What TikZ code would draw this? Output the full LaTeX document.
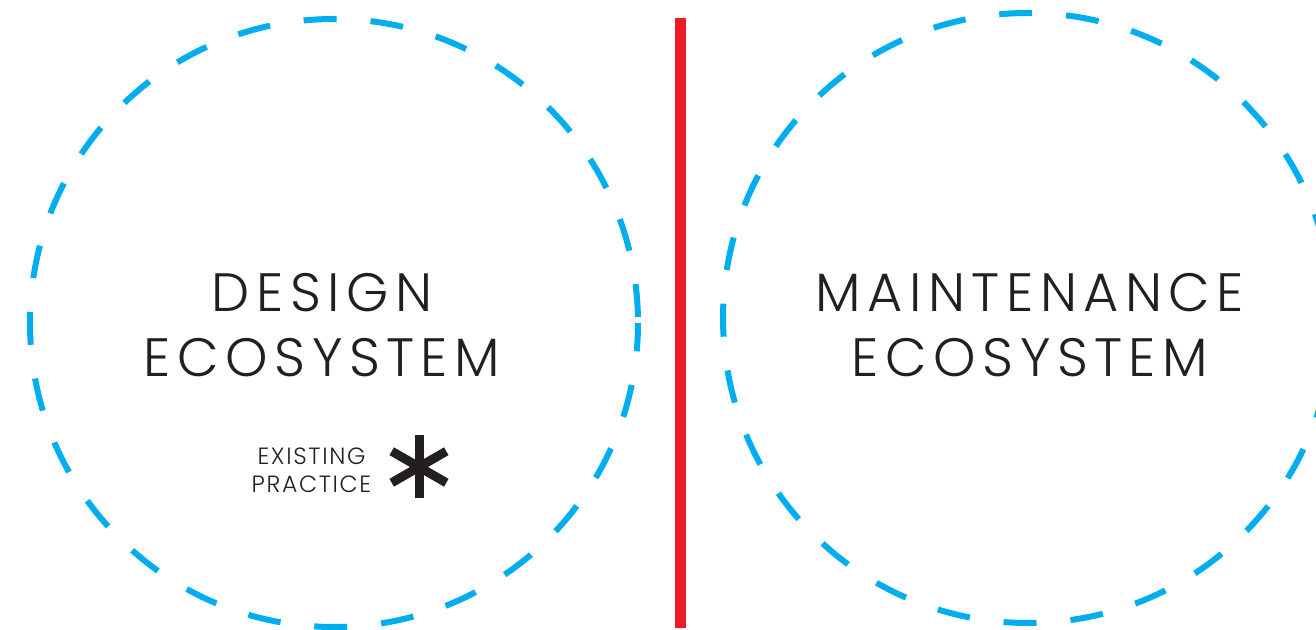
\documentclass[tikz,border=0pt]{standalone}
\usepackage{fontspec}
\setmainfont{Poppins Light}
\newfontfamily\ecofont{Poppins Light}[LetterSpace=12]
\newfontfamily\notefont{Poppins Light}[LetterSpace=7]
\usepackage{xcolor}
\usepackage{tikz}
\usetikzlibrary{positioning, calc}
\definecolor{ecoblue}{HTML}{00AEEF}
\definecolor{cutred}{HTML}{ED1C24}
\definecolor{inkgrey}{HTML}{231F20}

\begin{document}
\begin{tikzpicture}[
    x=1pt, y=1pt,
    eco/.style={draw=ecoblue, circle, line width=6pt, dash pattern=on 33pt off 34pt, dash phase=61pt, minimum size=#1, inner sep=0pt},
    title/.style={align=center, text=inkgrey, inner sep=0pt, font=\ecofont\fontsize{54}{65}\selectfont},
    note/.style={align=center, text=inkgrey, inner sep=0pt, font=\notefont\fontsize{23.5}{28}\selectfont},
    divider/.style={draw=cutred, line width=11pt},
    starline/.style={draw=inkgrey, line width=9pt}
]
\useasboundingbox (0,0) rectangle (1316,629);

% Ecosystems
\node[eco=608pt] (design) at (334,306) {};
\node[eco=610pt] (maint) at (1028,311) {};

% Titles
\node[title] (designtxt) at ([shift={(-12,-2)}]design.center) {DESIGN\\ECOSYSTEM};
\node[title] (mainttxt) at ([shift={(2,-7)}]maint.center) {MAINTENANCE\\ECOSYSTEM};

% Existing practice
\node[note] (practice) at (311.5,158.5) {EXISTING\\PRACTICE};
\coordinate (star) at (419,162);
\foreach \a in {90,30,-30}
    \draw[starline] ([shift={(\a:31.5)}]star) -- ([shift={(\a+180:31.5)}]star);

% Divider
\coordinate (cuttop) at (680.5,611);
\coordinate (cutbottom) at (680.5,1);
\draw[divider] (cuttop) -- (cutbottom);

\end{tikzpicture}
\end{document}
